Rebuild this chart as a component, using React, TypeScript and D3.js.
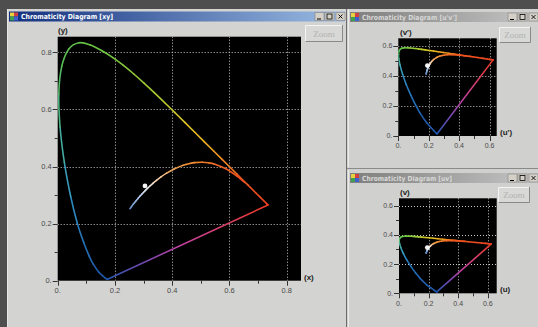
import React from 'react';
import * as d3 from 'd3';

// CIE 1931 spectral locus
const wavelengths = [380, 390, 400, 410, 420, 430, 440, 450, 460, 470, 475, 480, 485, 490, 495, 500, 505, 510, 515, 520, 525, 530, 535, 540, 545, 550, 555, 560, 565, 570, 575, 580, 585, 590, 595, 600, 610, 620, 630, 640, 650, 660, 680, 700];
const locusX = [0.1741, 0.1738, 0.1733, 0.1726, 0.1714, 0.1689, 0.1644, 0.1566, 0.144, 0.1241, 0.1096, 0.0913, 0.0687, 0.0454, 0.0235, 0.0082, 0.0039, 0.0139, 0.0389, 0.0743, 0.1142, 0.1547, 0.1929, 0.2296, 0.2658, 0.3016, 0.3373, 0.3731, 0.4087, 0.4441, 0.4788, 0.5125, 0.5448, 0.5752, 0.6029, 0.627, 0.6658, 0.6915, 0.7079, 0.719, 0.726, 0.73, 0.7334, 0.7347];
const locusY = [0.005, 0.0049, 0.0048, 0.0048, 0.0051, 0.0069, 0.0109, 0.0177, 0.0297, 0.0578, 0.0868, 0.1327, 0.2007, 0.295, 0.4127, 0.5384, 0.6548, 0.7502, 0.812, 0.8338, 0.8262, 0.8059, 0.7816, 0.7543, 0.7243, 0.6923, 0.6589, 0.6245, 0.5896, 0.5547, 0.5202, 0.4866, 0.4544, 0.4242, 0.3965, 0.3725, 0.334, 0.3083, 0.292, 0.2809, 0.274, 0.27, 0.2666, 0.2653];

// black body curve
const kelvins = [1000, 1200, 1500, 1800, 2000, 2200, 2500, 2856, 3000, 3500, 4000, 4500, 5000, 5500, 6000, 6500, 7000, 8000, 9000, 10000, 12000, 15000, 20000, 25000];
const planckX = [0.6528, 0.6251, 0.5857, 0.5487, 0.5267, 0.5052, 0.477, 0.4476, 0.4369, 0.4053, 0.3805, 0.3608, 0.3451, 0.3325, 0.3221, 0.3135, 0.3064, 0.2952, 0.2869, 0.2807, 0.2719, 0.2637, 0.2565, 0.2525];
const planckY = [0.3444, 0.3674, 0.3931, 0.4082, 0.4133, 0.4152, 0.4137, 0.4074, 0.4041, 0.3907, 0.3768, 0.3636, 0.3516, 0.3411, 0.3318, 0.3237, 0.3166, 0.3048, 0.2956, 0.2884, 0.2779, 0.2675, 0.2577, 0.2522];

const whitePoint = [0.305, 0.332];

const xyTicks = [0, 0.2, 0.4, 0.6, 0.8];
const xyTickLabels = ['0.', '0.2', '0.4', '0.6', '0.8'];
const xyMinor = [0.1, 0.3, 0.5, 0.7];
const uvTicks = [0, 0.2, 0.4, 0.6];
const uvTickLabels = ['0.', '0.2', '0.4', '0.6'];
const uvMinor = [0.1, 0.3, 0.5];

const wlColor = d3.scaleLinear<string>()
  .domain([380, 460, 480, 490, 495, 500, 505, 515, 530, 550, 565, 575, 585, 595, 610, 700])
  .range(['#1c4c9c', '#1e58a8', '#2470b8', '#3090c0', '#40a8b0', '#48b090', '#50b870', '#5cc048', '#6cc440', '#98c838', '#c8c828', '#e8c020', '#f0a020', '#f07820', '#f05020', '#e83820'])
  .clamp(true);

const planckColor = d3.scaleLinear<string>()
  .domain([1000, 1800, 2500, 3500, 4500, 5500, 6500, 8000, 12000, 25000])
  .range(['#f04a20', '#f06a22', '#f08a30', '#f0a050', '#f0c090', '#f0dcc8', '#eeeeee', '#c8d8f0', '#90b0e0', '#5a88c8']);

const toXY = (x: number, y: number) => [x, y];
const toUV76 = (x: number, y: number) => { const d = -2 * x + 12 * y + 3; return [4 * x / d, 9 * y / d]; };
const toUV60 = (x: number, y: number) => { const d = -2 * x + 12 * y + 3; return [4 * x / d, 6 * y / d]; };

// one Catmull-Rom piece between pts[i] and pts[i+1], so each piece can take its own colour
function piece(pts: number[][], i: number) {
  const p0 = pts[Math.max(0, i - 1)], p1 = pts[i], p2 = pts[i + 1], p3 = pts[Math.min(pts.length - 1, i + 2)];
  const c1 = [p1[0] + (p2[0] - p0[0]) / 6, p1[1] + (p2[1] - p0[1]) / 6];
  const c2 = [p2[0] - (p3[0] - p1[0]) / 6, p2[1] - (p3[1] - p1[1]) / 6];
  return `M${p1[0]},${p1[1]}C${c1[0]},${c1[1]} ${c2[0]},${c2[1]} ${p2[0]},${p2[1]}`;
}

type Cfg = {
  id: string; x0: number; x1: number; y0: number; y1: number;
  xMax: number; yMax: number; ticks: number[]; labels: string[]; minor: number[];
  xName: string; yName: string; xNameAt: number[]; yNameAt: number[];
  project: (x: number, y: number) => number[]; font: number; labelDy: number; dot: number;
};

function Diagram({ c }: { c: Cfg }) {
  const sx = d3.scaleLinear().domain([0, c.xMax]).range([c.x0, c.x1]);
  const sy = d3.scaleLinear().domain([0, c.yMax]).range([c.y1, c.y0]);
  const P = (x: number, y: number) => { const p = c.project(x, y); return [sx(p[0]), sy(p[1])]; };
  const locus = wavelengths.map((w, i) => P(locusX[i], locusY[i]));
  const planck = kelvins.map((k, i) => P(planckX[i], planckY[i]));
  const red = locus[locus.length - 1];
  const violet = locus[0];
  const wp = P(whitePoint[0], whitePoint[1]);
  const gid = 'purple-' + c.id;
  return (
    <g>
      <defs>
        <linearGradient id={gid} gradientUnits="userSpaceOnUse" x1={red[0]} y1={red[1]} x2={violet[0]} y2={violet[1]}>
          <stop offset="0" stopColor="#e83820" />
          <stop offset="0.3" stopColor="#d84070" />
          <stop offset="0.55" stopColor="#c040a0" />
          <stop offset="0.78" stopColor="#7048b0" />
          <stop offset="1" stopColor="#2858b0" />
        </linearGradient>
        <clipPath id={'clip-' + c.id}>
          <rect x={c.x0} y={c.y0} width={c.x1 - c.x0} height={c.y1 - c.y0} />
        </clipPath>
      </defs>
      <rect x={c.x0} y={c.y0} width={c.x1 - c.x0} height={c.y1 - c.y0} fill="#000" />
      {c.ticks.filter(t => t > 0).map(t => (
        <g key={'g' + t} stroke="#c8c8c8" strokeWidth={1} strokeDasharray="1,2">
          {sx(t) < c.x1 && <line x1={Math.round(sx(t)) + 0.5} x2={Math.round(sx(t)) + 0.5} y1={c.y0} y2={c.y1} />}
          {sy(t) > c.y0 && <line y1={Math.round(sy(t)) + 0.5} y2={Math.round(sy(t)) + 0.5} x1={c.x0} x2={c.x1} />}
        </g>
      ))}
      <g clipPath={`url(#clip-${c.id})`} fill="none" strokeWidth={1.6} strokeLinecap="round">
        <line x1={red[0]} y1={red[1]} x2={violet[0]} y2={violet[1]} stroke={`url(#${gid})`} />
        {locus.slice(1).map((p, i) => (
          <path key={'l' + i} d={piece(locus, i)} stroke={wlColor((wavelengths[i] + wavelengths[i + 1]) / 2)} />
        ))}
        {planck.slice(1).map((p, i) => (
          <path key={'p' + i} d={piece(planck, i)} stroke={planckColor((kelvins[i] + kelvins[i + 1]) / 2)} />
        ))}
        <circle cx={wp[0]} cy={wp[1]} r={c.dot} fill="#f4f4f4" stroke="none" />
      </g>
      <g stroke="#333" strokeWidth={1}>
        {c.ticks.map(t => (
          <g key={'t' + t}>
            <line x1={Math.round(sx(t)) + 0.5} x2={Math.round(sx(t)) + 0.5} y1={c.y1} y2={c.y1 + 5} />
            <line y1={Math.round(sy(t)) + 0.5} y2={Math.round(sy(t)) + 0.5} x1={c.x0 - 5} x2={c.x0} />
          </g>
        ))}
        {c.minor.map(t => (
          <g key={'m' + t}>
            <line x1={Math.round(sx(t)) + 0.5} x2={Math.round(sx(t)) + 0.5} y1={c.y1} y2={c.y1 + 3} />
            <line y1={Math.round(sy(t)) + 0.5} y2={Math.round(sy(t)) + 0.5} x1={c.x0 - 3} x2={c.x0} />
          </g>
        ))}
      </g>
      <g fontFamily="'Liberation Sans', Arial, sans-serif" fontSize={c.font} fill="#4a4a4a">
        {c.ticks.map((t, i) => (
          <g key={'lab' + t}>
            <text x={sx(t)} y={c.y1 + c.labelDy} textAnchor="middle">{c.labels[i]}</text>
            <text x={c.x0 - 6} y={sy(t) + c.font * 0.35} textAnchor="end">{c.labels[i]}</text>
          </g>
        ))}
      </g>
      <g fontFamily="'Liberation Sans', Arial, sans-serif" fontSize={8} fontWeight="bold" fill="#222">
        <text x={c.xNameAt[0]} y={c.xNameAt[1]}>{c.xName}</text>
        <text x={c.yNameAt[0]} y={c.yNameAt[1]}>{c.yName}</text>
      </g>
    </g>
  );
}

function TitleBar({ x, y, w, title, active, id, textLen }: { x: number; y: number; w: number; title: string; active: boolean; id: string; textLen: number }) {
  const bx = x + w - 30;
  return (
    <g>
      <defs>
        <linearGradient id={'tb-' + id} x1="0" x2="1" y1="0" y2="0">
          <stop offset="0" stopColor={active ? '#12307e' : '#7e7e7e'} />
          <stop offset="1" stopColor={active ? '#9cbce4' : '#c6c6c6'} />
        </linearGradient>
      </defs>
      <rect x={x} y={y} width={w} height={10} fill={`url(#tb-${id})`} />
      <rect x={x + 1} y={y + 1} width={4} height={4} fill="#e8d040" />
      <rect x={x + 5} y={y + 1} width={4} height={4} fill="#d04040" />
      <rect x={x + 1} y={y + 5} width={4} height={4} fill="#40a050" />
      <rect x={x + 5} y={y + 5} width={4} height={4} fill="#4060d0" />
      <text x={x + 12} y={y + 7.8} fontFamily="'DejaVu Sans', sans-serif" fontSize={7} fontWeight="bold"
        fill={active ? '#fff' : '#d8d8d6'} textLength={textLen} lengthAdjust="spacingAndGlyphs">{title}</text>
      {[0, 1, 2].map(i => (
        <g key={i}>
          <rect x={bx + i * 10 + (i === 2 ? 1 : 0)} y={y + 1} width={9} height={8} fill="#d4d0c8" stroke="#808080" strokeWidth={0.6} />
        </g>
      ))}
      <line x1={bx + 2} x2={bx + 6} y1={y + 7.5} y2={y + 7.5} stroke="#000" strokeWidth={1} />
      <rect x={bx + 12} y={y + 2.5} width={5} height={5} fill="none" stroke="#000" strokeWidth={0.8} />
      <path d={`M${bx + 23.5},${y + 3} l4,4 M${bx + 27.5},${y + 3} l-4,4`} stroke="#000" strokeWidth={0.9} />
    </g>
  );
}

function ZoomButton({ x, y, w, h }: { x: number; y: number; w: number; h: number }) {
  return (
    <g>
      <rect x={x} y={y} width={w} height={h} fill="#d8d8d6" />
      <path d={`M${x + 0.5},${y + h} V${y + 0.5} H${x + w}`} stroke="#f4f4f4" fill="none" />
      <path d={`M${x + 0.5},${y + h - 0.5} H${x + w - 0.5} V${y}`} stroke="#8a8a8a" fill="none" />
      <text x={x + w / 2} y={y + h / 2 + 3} textAnchor="middle" fontFamily="'Liberation Serif', serif" fontSize={9} fill="#b2b2b2">Zoom</text>
    </g>
  );
}

const mainCfg: Cfg = {
  id: 'xy', x0: 57.7, x1: 301, y0: 36.7, y1: 280.7, xMax: 0.85, yMax: 0.855,
  ticks: xyTicks, labels: xyTickLabels, minor: xyMinor, xName: '(x)', yName: '(y)',
  xNameAt: [304, 280], yNameAt: [58, 33], project: toXY, font: 7.5, labelDy: 12.5, dot: 2.4,
};
const uvpCfg: Cfg = {
  id: 'uvp', x0: 398.3, x1: 496.7, y0: 38.3, y1: 136, xMax: 0.647, yMax: 0.65,
  ticks: uvTicks, labels: uvTickLabels, minor: uvMinor, xName: "(u')", yName: "(v')",
  xNameAt: [500, 135], yNameAt: [400, 35], project: toUV76, font: 7, labelDy: 12, dot: 2.4,
};
const uvCfg: Cfg = {
  id: 'uv', x0: 399, x1: 496.7, y0: 198.3, y1: 293.3, xMax: 0.66, yMax: 0.65,
  ticks: uvTicks, labels: uvTickLabels, minor: uvMinor, xName: '(u)', yName: '(v)',
  xNameAt: [500, 292], yNameAt: [400, 195], project: toUV60, font: 7, labelDy: 12.5, dot: 2.4,
};

export default function App() {
  return (
    <div style={{ position: 'fixed', left: 0, top: 0 }}>
      <svg width={538} height={327} style={{ display: 'block' }}>
        <rect width={538} height={327} fill="#4e4e4e" />
        {/* main window */}
        <rect x={7} y={9} width={340} height={330} fill="#d3d3d1" />
        <line x1={7.5} x2={7.5} y1={9} y2={327} stroke="#e6e6e4" />
        <TitleBar x={9} y={11.5} w={336} title="Chromaticity Diagram [xy]" active id="m" textLen={92} />
        <ZoomButton x={305} y={25} w={38} h={17} />
        <Diagram c={mainCfg} />
        {/* right panel */}
        <rect x={346} y={9} width={192} height={320} fill="#d0d0ce" />
        <line x1={346.5} x2={346.5} y1={9} y2={327} stroke="#6c6c6c" />
        <line x1={348.5} x2={348.5} y1={9} y2={167} stroke="#ececea" />
        <TitleBar x={350} y={12} w={188} title="Chromaticity Diagram [u'v']" active={false} id="a" textLen={95} />
        <ZoomButton x={499} y={27} w={32} h={16} />
        <Diagram c={uvpCfg} />
        <line x1={347} x2={538} y1={168.5} y2={168.5} stroke="#8a8a8a" />
        <line x1={348.5} x2={348.5} y1={170} y2={327} stroke="#ececea" />
        <TitleBar x={350} y={173} w={188} title="Chromaticity Diagram [uv]" active={false} id="b" textLen={90} />
        <ZoomButton x={498} y={187} w={32} h={16} />
        <Diagram c={uvCfg} />
      </svg>
    </div>
  );
}
